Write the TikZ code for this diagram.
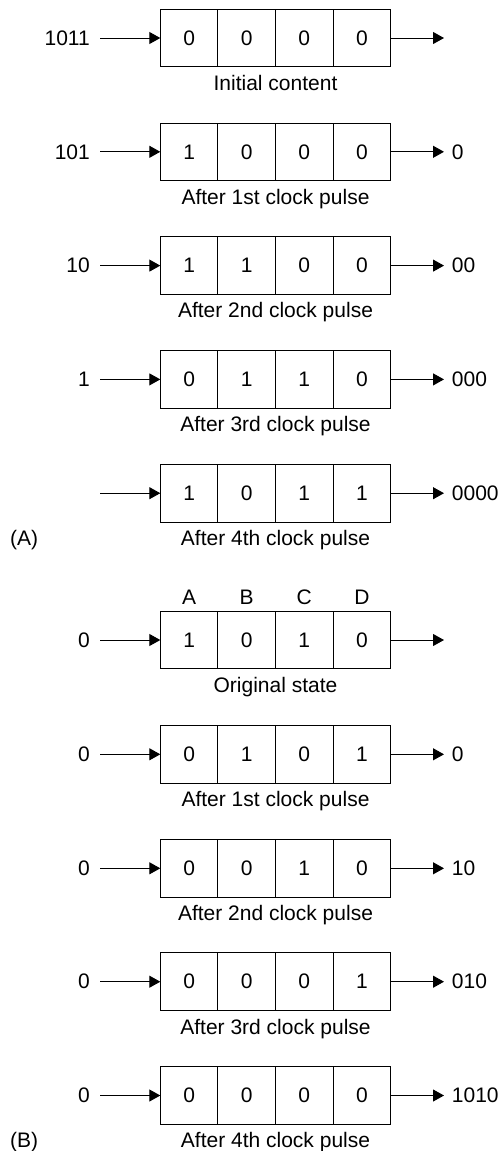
\documentclass[tikz,border=0pt]{standalone}
\usepackage{fontspec}
\setmainfont{Liberation Sans}
\usetikzlibrary{arrows.meta}

\begin{document}
\begin{tikzpicture}[
  x=1bp, y=-1bp,
  >={Triangle[length=11bp, width=12bp]},
  every node/.style={font=\fontsize{21bp}{25bp}\selectfont, inner sep=0pt},
  cell/.style={draw, line width=1bp, minimum width=57.6bp, minimum height=57.6bp, outer sep=0pt},
  wire/.style={->, line width=1bp},
]

% Background
\fill[white] (0,0) rectangle (502,1151);
\useasboundingbox (0,0) rectangle (502,1151);

% --- (A): shifting 1011 in ---
\foreach \r/\y/\inp/\outp/\ba/\bb/\bc/\bd/\capt in {
    1/38/1011/{}/0/0/0/0/Initial content,
    2/151.8/101/0/1/0/0/0/After 1st clock pulse,
    3/265.6/10/00/1/1/0/0/After 2nd clock pulse,
    4/379.4/1/000/0/1/1/0/After 3rd clock pulse,
    5/493.2/{}/0000/1/0/1/1/After 4th clock pulse}
{
  \node[cell] (a\r-1) at (189.1,\y) {\ba};
  \node[cell] (a\r-2) at (246.7,\y) {\bb};
  \node[cell] (a\r-3) at (304.3,\y) {\bc};
  \node[cell] (a\r-4) at (361.9,\y) {\bd};
  \node[anchor=east] (a\r-in) at (90,\y) {\inp};
  \node[anchor=west] (a\r-out) at (451.7,\y) {\outp};
  \node[anchor=base] (a\r-cap) at (275.5,\y+52.3) {\capt};
  \coordinate (a\r-s) at (100,\y);
  \coordinate (a\r-e) at (444,\y);
  \draw[wire] (a\r-s) -- (a\r-1);
  \draw[wire] (a\r-4) -- (a\r-e);
}
\node[anchor=base west] (tagA) at (10,545.5) {(A)};

% --- (B): shifting 1010 out ---
\foreach \r/\y/\outp/\ba/\bb/\bc/\bd/\capt in {
    1/640/{}/1/0/1/0/Original state,
    2/754.3/0/0/1/0/1/After 1st clock pulse,
    3/868.3/10/0/0/1/0/After 2nd clock pulse,
    4/981.7/010/0/0/0/1/After 3rd clock pulse,
    5/1095.5/1010/0/0/0/0/After 4th clock pulse}
{
  \node[cell] (b\r-1) at (189.1,\y) {\ba};
  \node[cell] (b\r-2) at (246.7,\y) {\bb};
  \node[cell] (b\r-3) at (304.3,\y) {\bc};
  \node[cell] (b\r-4) at (361.9,\y) {\bd};
  \node[anchor=east] (b\r-in) at (90,\y) {0};
  \node[anchor=west] (b\r-out) at (451.7,\y) {\outp};
  \node[anchor=base] (b\r-cap) at (275.5,\y+52.3) {\capt};
  \coordinate (b\r-s) at (100,\y);
  \coordinate (b\r-e) at (444,\y);
  \draw[wire] (b\r-s) -- (b\r-1);
  \draw[wire] (b\r-4) -- (b\r-e);
}

% Flip-flop names
\node[anchor=base] (ffA) at (189.1,604) {A};
\node[anchor=base] (ffB) at (246.7,604) {B};
\node[anchor=base] (ffC) at (304.3,604) {C};
\node[anchor=base] (ffD) at (361.9,604) {D};

\node[anchor=base west] (tagB) at (10,1147) {(B)};

\end{tikzpicture}
\end{document}
